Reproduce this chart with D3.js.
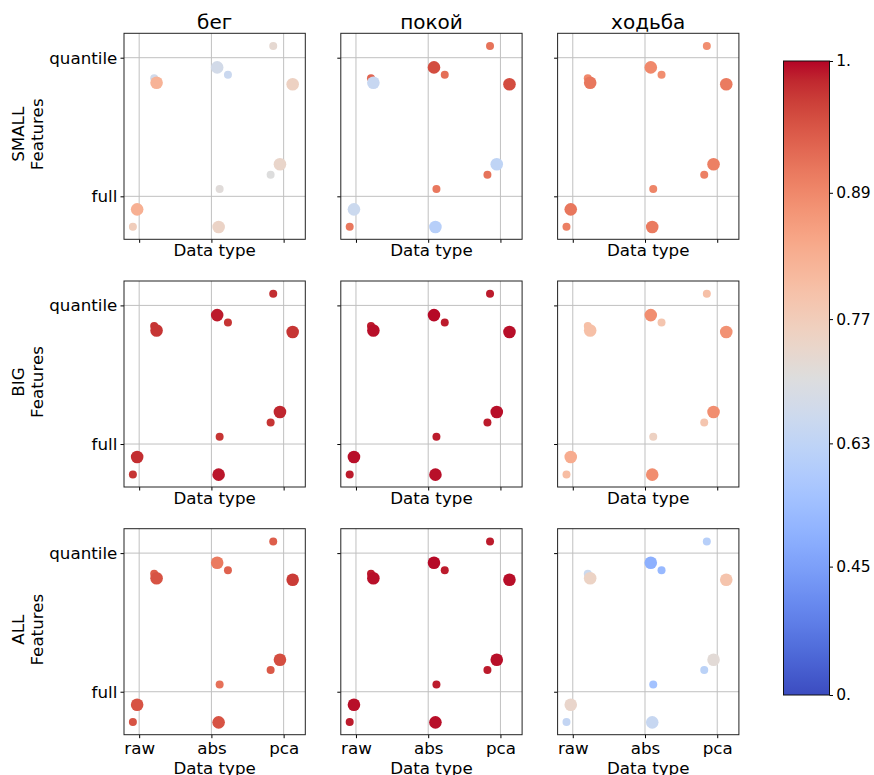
<!DOCTYPE html>
<html>
<head>
<meta charset="utf-8">
<script src="https://cdn.jsdelivr.net/npm/d3@7"></script>
<style>
  body { margin: 0; background: #fff; }
  text { font-family: "DejaVu Sans", sans-serif; fill: #000; }
</style>
</head>
<body>
<div id="chart"></div>
<script>
//
// panels: columns = activity, rows = feature group
//
const activities = ["бег", "покой", "ходьба"]
const featureGroups = ["SMALL", "BIG", "ALL"]
const dataTypes = ["raw", "abs", "pca"]
const featureSets = ["full", "quantile"]

// the 12 runs of every panel (same jitter everywhere)
const runDataType = ["raw", "raw", "raw", "raw", "abs", "abs", "abs", "abs", "pca", "pca", "pca", "pca"]
const runFeatureSet = ["full", "full", "quantile", "quantile", "full", "full", "quantile", "quantile", "full", "full", "quantile", "quantile"]
const runSize = ["small", "large", "small", "large", "small", "large", "small", "large", "small", "large", "small", "large"]
const runJitterX = [-0.087, -0.028, 0.208, 0.241, 0.114, 0.100, 0.229, 0.080, -0.180, -0.051, -0.144, 0.125]
const runJitterY = [-0.219, -0.094, -0.149, -0.181, 0.053, -0.221, -0.123, -0.070, 0.156, 0.231, 0.084, -0.192]

// scores, one array per panel, in run order
const scoreSmallBeg = [0.768, 0.831, 0.671, 0.825, 0.714, 0.748, 0.656, 0.678, 0.707, 0.742, 0.728, 0.755]
const scoreSmallPokoy = [0.91, 0.66, 0.93, 0.65, 0.91, 0.61, 0.92, 0.955, 0.915, 0.63, 0.915, 0.955]
const scoreSmallHodba = [0.9, 0.911, 0.889, 0.911, 0.894, 0.906, 0.883, 0.889, 0.9, 0.9, 0.883, 0.906]
const scoreBigBeg = [0.975, 0.98, 0.975, 0.975, 0.975, 0.992, 0.975, 0.99, 0.975, 0.985, 0.98, 0.975]
const scoreBigPokoy = [0.99, 0.995, 0.99, 0.995, 0.99, 0.995, 0.99, 0.998, 0.99, 0.995, 0.99, 0.995]
const scoreBigHodba = [0.806, 0.837, 0.8, 0.8, 0.755, 0.883, 0.787, 0.883, 0.787, 0.883, 0.8, 0.877]
const scoreAllBeg = [0.949, 0.949, 0.938, 0.949, 0.917, 0.949, 0.933, 0.906, 0.943, 0.954, 0.938, 0.97]
const scoreAllPokoy = [0.99, 0.995, 0.99, 0.995, 0.99, 0.995, 0.99, 0.998, 0.99, 0.995, 0.99, 0.995]
const scoreAllHodba = [0.64, 0.74, 0.66, 0.75, 0.56, 0.65, 0.53, 0.5, 0.62, 0.72, 0.61, 0.79]

const panelScores = [
  [scoreSmallBeg, scoreSmallPokoy, scoreSmallHodba],
  [scoreBigBeg, scoreBigPokoy, scoreBigHodba],
  [scoreAllBeg, scoreAllPokoy, scoreAllHodba]
]

// colorbar tick labels
const cbTicks = [0, 0.45, 0.63, 0.77, 0.89, 1]

//
// coolwarm colormap + power norm (gamma 2)
//
const coolwarmStops = [
  [59, 76, 192], [68, 90, 204], [77, 104, 215], [87, 117, 225], [98, 130, 234], [108, 142, 241],
  [119, 154, 247], [130, 165, 251], [141, 176, 254], [152, 185, 255], [163, 194, 255], [174, 201, 253],
  [184, 208, 249], [194, 213, 244], [204, 217, 238], [213, 219, 230], [221, 221, 221], [229, 216, 209],
  [236, 211, 197], [241, 204, 185], [245, 196, 173], [247, 187, 160], [247, 177, 148], [247, 166, 135],
  [244, 154, 123], [241, 141, 111], [236, 127, 99], [229, 112, 88], [222, 96, 77], [213, 80, 66],
  [203, 62, 56], [192, 40, 47], [180, 4, 38]
]
const coolwarm = d3.scaleLinear()
  .domain(coolwarmStops.map((d, i) => i / (coolwarmStops.length - 1)))
  .range(coolwarmStops.map(d => `rgb(${d[0]},${d[1]},${d[2]})`))
  .clamp(true)
const norm = d3.scalePow().exponent(2).domain([0, 1]).range([0, 1]).clamp(true)
const color = v => coolwarm(norm(v))

//
// layout
//
const width = 874, height = 775
const left0 = 124, colStep = 216.8, panelW = 181.3
const top0 = 33.3, rowStep = 247.7, panelH = 206
const labelSize = "16.7px"

const svg = d3.select("#chart").append("svg")
  .attr("width", width)
  .attr("height", height)

const x = d3.scaleLinear().domain([-0.21, 2.30]).range([0, panelW])
const y = d3.scaleLinear().domain([-0.31, 1.176]).range([panelH, 0])
const r = d3.scaleOrdinal().domain(["small", "large"]).range([4, 6.3])

const runs = runDataType.map((t, i) => ({
  i: i,
  xv: dataTypes.indexOf(t) + runJitterX[i],
  yv: featureSets.indexOf(runFeatureSet[i]) + runJitterY[i],
  size: runSize[i]
}))
// small markers underneath the large ones
const drawOrder = runs.slice().sort((a, b) => (a.size === "small" ? 0 : 1) - (b.size === "small" ? 0 : 1))

featureGroups.forEach(function(group, row) {
  activities.forEach(function(act, col) {
    const scores = panelScores[row][col]
    const g = svg.append("g")
      .attr("transform", `translate(${left0 + col * colStep},${top0 + row * rowStep})`)

    // grid
    g.selectAll(".vgrid").data(dataTypes).enter().append("line")
      .attr("x1", (d, i) => x(i)).attr("x2", (d, i) => x(i))
      .attr("y1", 0).attr("y2", panelH)
      .attr("stroke", "#c0c0c0").attr("stroke-width", 1)
    g.selectAll(".hgrid").data(featureSets).enter().append("line")
      .attr("y1", (d, i) => y(i)).attr("y2", (d, i) => y(i))
      .attr("x1", 0).attr("x2", panelW)
      .attr("stroke", "#c0c0c0").attr("stroke-width", 1)

    // points
    g.selectAll("circle").data(drawOrder).enter().append("circle")
      .attr("cx", d => x(d.xv))
      .attr("cy", d => y(d.yv))
      .attr("r", d => r(d.size))
      .attr("fill", d => color(scores[d.i]))

    // axes
    const xAxis = d3.axisBottom(x).tickValues([0, 1, 2])
      .tickSize(3.5).tickPadding(3.6)
      .tickFormat(i => row === 2 ? dataTypes[i] : "")
    const gx = g.append("g").attr("transform", `translate(0,${panelH})`).call(xAxis)
    const yAxis = d3.axisLeft(y).tickValues([0, 1])
      .tickSize(3.5).tickPadding(3.2)
      .tickFormat(i => col === 0 ? featureSets[i] : "")
    const gy = g.append("g").call(yAxis)
    ;[gx, gy].forEach(a => {
      a.select(".domain").remove()
      a.selectAll("line").attr("stroke", "#000").attr("stroke-width", 1)
      a.selectAll("text").style("font-size", labelSize).attr("fill", "#000")
        .style("font-family", "'DejaVu Sans', sans-serif")
    })

    // frame
    g.append("rect")
      .attr("width", panelW).attr("height", panelH)
      .attr("fill", "none").attr("stroke", "#222").attr("stroke-width", 1)

    // labels
    g.append("text")
      .attr("x", panelW / 2).attr("y", panelH + (row === 2 ? 38.9 : 17.2))
      .attr("text-anchor", "middle").style("font-size", labelSize)
      .text("Data type")
    if (row === 0) {
      g.append("text")
        .attr("x", panelW / 2).attr("y", -4)
        .attr("text-anchor", "middle").style("font-size", "20px")
        .text(act)
    }
    if (col === 0) {
      [group, "Features"].forEach(function(line, k) {
        g.append("text")
          .attr("transform", `translate(${-99.7 + k * 19},${panelH / 2 - 2}) rotate(-90)`)
          .attr("text-anchor", "middle").style("font-size", labelSize)
          .text(line)
      })
    }
  })
})

//
// colorbar
//
const cbX = 783.5, cbW = 46, cbTop = 61, cbBottom = 695
const grad = svg.append("defs").append("linearGradient")
  .attr("id", "cbgrad").attr("x1", 0).attr("x2", 0).attr("y1", 1).attr("y2", 0)
grad.selectAll("stop").data(d3.range(0, 1.0001, 1 / 64)).enter().append("stop")
  .attr("offset", d => d)
  .attr("stop-color", d => coolwarm(d))
svg.append("rect")
  .attr("x", cbX).attr("y", cbTop)
  .attr("width", cbW).attr("height", cbBottom - cbTop)
  .attr("fill", "url(#cbgrad)")
  .attr("stroke", "#111").attr("stroke-width", 1)

const cbScale = d3.scalePow().exponent(2).domain([0, 1]).range([cbBottom, cbTop])
const cbAxis = d3.axisRight(cbScale).tickValues(cbTicks)
  .tickSize(3.5).tickPadding(3.2)
  .tickFormat(d => d === 0 ? "0." : d === 1 ? "1." : String(d))
const gcb = svg.append("g").attr("transform", `translate(${cbX + cbW},0)`).call(cbAxis)
gcb.select(".domain").remove()
gcb.selectAll("line").attr("stroke", "#000")
gcb.selectAll("text").style("font-size", "15.5px").attr("fill", "#000")
  .style("font-family", "'DejaVu Sans', sans-serif")
</script>
</body>
</html>
